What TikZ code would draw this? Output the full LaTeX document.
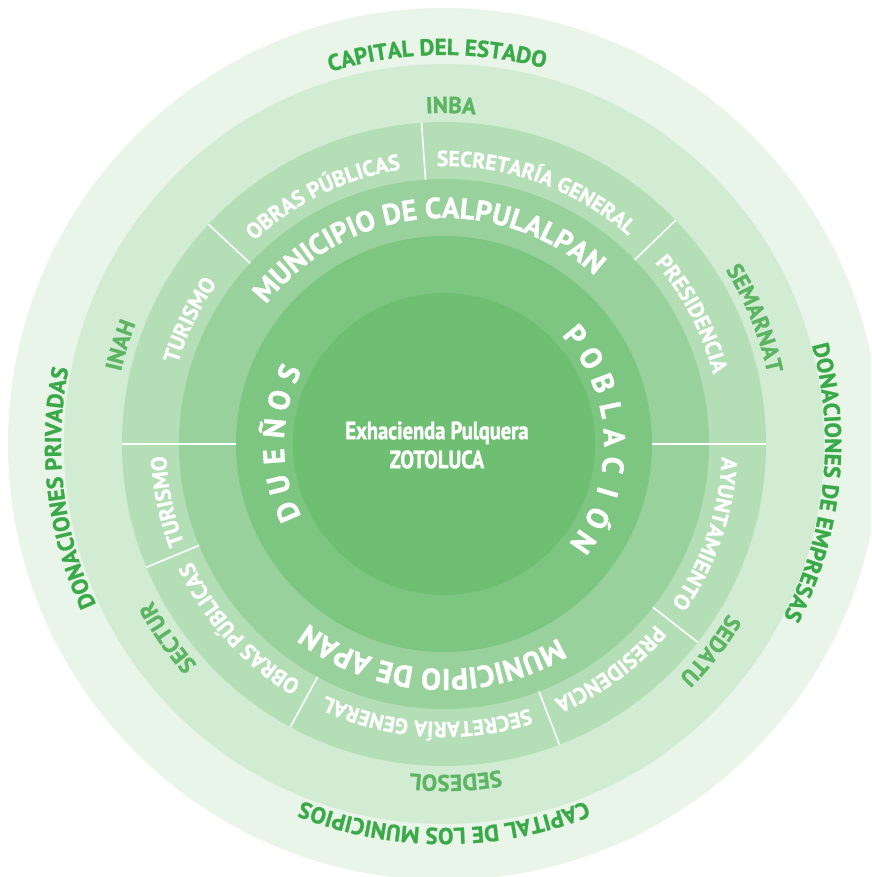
\documentclass[tikz,border=0pt]{standalone}
\usepackage{fontspec}
\setmainfont{PT Sans}[BoldFeatures={FakeBold=1.2}]
\newfontfamily\narrowfont[FakeStretch=0.82, BoldFeatures={FakeBold=1.4}]{PT Sans}
\usepackage{tikz}
\usetikzlibrary{decorations.text}
\definecolor{CoreGreen}{HTML}{6FBF73}
\definecolor{RingTwo}{HTML}{7DC681}
\definecolor{RingThree}{HTML}{99D19C}
\definecolor{RingFour}{HTML}{B4DEB5}
\definecolor{RingFive}{HTML}{D2EBD3}
\definecolor{RingSix}{HTML}{EAF5EA}
\definecolor{LabelGreen}{HTML}{3AAA48}
\definecolor{AgencyGreen}{HTML}{5DB563}

% #1 baseline radius, #2 centre angle, #3 font size, #4 colour, #5 text
\newcommand{\arclabel}[5]{%
  \path[decorate, decoration={text along path, text align=center, text color=#4,
      text={|\bfseries\fontsize{#3}{#3}\selectfont|#5}}]
    ({#2+80}:#1pt) arc[start angle={#2+80}, end angle={#2-80}, radius=#1pt];}

\begin{document}
\begin{tikzpicture}[
    x=1pt, y=1pt,
    divider/.style={draw=white, line width=1.6pt},
    ringletter/.style={anchor=base, inner sep=0pt, text=white, font=\bfseries\fontsize{30}{30}\selectfont},
    centertext/.style={align=center, inner sep=0pt, text=white, font=\narrowfont\bfseries\fontsize{25}{29}\selectfont}
]
    \useasboundingbox (-444,-433) rectangle (427,444);
    \clip (-444,-433) rectangle (427,444);

    % rings, outside in
    \fill[RingSix] (0,0) circle[radius=436pt];
    \fill[RingFive] (0,0) circle[radius=380pt];
    \fill[RingFour] (0,0) circle[radius=322pt];
    \fill[RingThree] (0,0) circle[radius=265pt];
    \fill[RingTwo] (0,0) circle[radius=208pt];
    \fill[CoreGreen] (0,0) circle[radius=151pt];

    % dividers
    \draw[divider] (180:208pt) -- (180:322pt);
    \draw[divider] (0:208pt) -- (0:322pt);
    \foreach \a in {137, 94, 44, 202.5, 241.5, 291, 322}
        \draw[divider] (\a:265pt) -- (\a:322pt);

    % outer ring
    \arclabel{389}{91}{23}{LabelGreen}{CAPITAL DEL ESTADO}
    \arclabel{384}{-90}{23}{LabelGreen}{CAPITAL DE LOS MUNICIPIOS}
    \arclabel{383}{186.7}{23}{LabelGreen}{DONACIONES PRIVADAS}
    \arclabel{381}{-6}{23}{LabelGreen}{DONACIONES DE EMPRESAS}

    % agencies
    \arclabel{331}{88.8}{23}{AgencyGreen}{INBA}
    \arclabel{331}{22}{23}{AgencyGreen}{SEMARNAT}
    \arclabel{331}{-37.8}{23}{AgencyGreen}{SEDATU}
    \arclabel{331}{-88}{23}{AgencyGreen}{SEDESOL}
    \arclabel{331}{-145}{23}{AgencyGreen}{SECTUR}
    \arclabel{331}{163}{23}{AgencyGreen}{INAH}

    % offices
    \arclabel{278}{154}{22}{white}{TURISMO}
    \arclabel{278}{116}{22}{white}{OBRAS PÚBLICAS}
    \arclabel{278}{70}{21.5}{white}{SECRETARÍA GENERAL}
    \arclabel{278}{27.6}{22}{white}{PRESIDENCIA}
    \arclabel{278}{-18.9}{22}{white}{AYUNTAMIENTO}
    \arclabel{278}{-53.6}{22}{white}{PRESIDENCIA}
    \arclabel{278}{-93.6}{21.5}{white}{SECRETARÍA GENERAL}
    \arclabel{278}{-138}{22}{white}{OBRAS PÚBLICAS}
    \arclabel{278}{-168.3}{22}{white}{TURISMO}

    % municipalities
    \arclabel{226}{95}{29}{white}{MUNICIPIO DE CALPULALPAN}
    \arclabel{225}{-93.3}{30}{white}{MUNICIPIO DE APAN}

    % spaced letters
    \foreach \ch [count=\i from 0] in {D,U,E,Ñ,O,S}
        \node[ringletter, rotate={113.4-9.58*\i}] (dueno\i) at ({203.4-9.58*\i}:160pt) {\ch};
    \foreach \ch [count=\i from 0] in {P,O,B,L,A,C,I,Ó,N}
        \node[ringletter, rotate={-50.4-9.35*\i}] (pobla\i) at ({39.6-9.35*\i}:160pt) {\ch};

    \node[centertext] (hacienda) at (-7,-1) {Exhacienda Pulquera\\ZOTOLUCA};
\end{tikzpicture}
\end{document}
